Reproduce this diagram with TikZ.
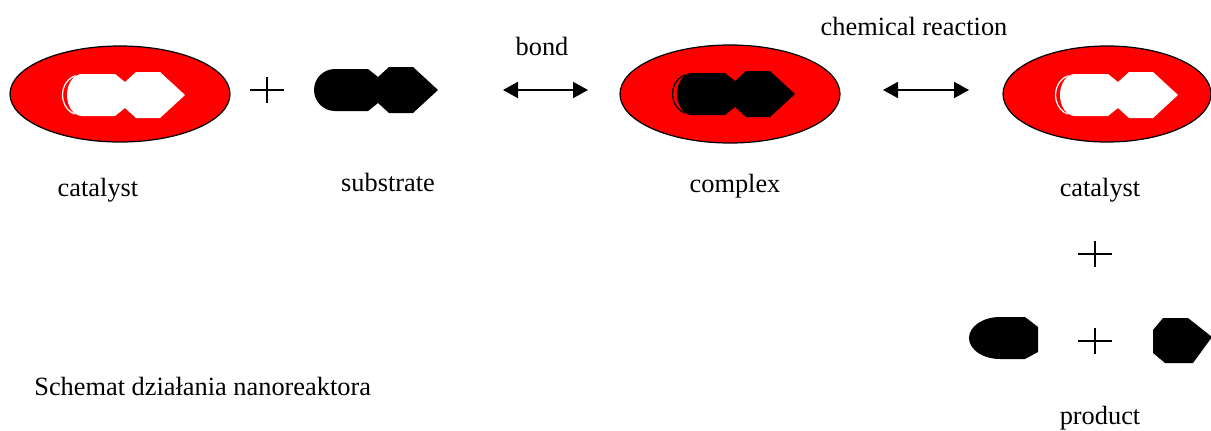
\documentclass[tikz,border=0pt]{standalone}
\usepackage{fontspec}
\setmainfont{Liberation Serif}
\usepackage{tikz}
\usetikzlibrary{shapes.geometric,arrows.meta}

\begin{document}
\begin{tikzpicture}[every node/.style={font=\fontsize{15}{18}\selectfont},
  cell/.style={ellipse, draw=black, line width=0.7pt, fill=red, inner sep=0pt},
  react/.style={{Triangle[length=0.3cm,width=0.32cm]}-{Triangle[length=0.3cm,width=0.32cm]}, line width=1.1pt}]
\useasboundingbox (0,-8.6) rectangle (24.22,0);
\node[cell, minimum width=4.4cm, minimum height=1.92cm] (cat1) at (2.4,-1.88) {};
\node[cell, minimum width=4.4cm, minimum height=1.96cm] (cplx) at (14.6,-1.88) {};
\node[cell, minimum width=4.16cm, minimum height=1.92cm] (cat2) at (22.14,-1.88) {};
% active sites and the substrate molecule
\foreach \x/\y/\c/\r in {2.5/-1.9/white/0.3, 7.56/-1.8/black/0.42, 14.7/-1.88/black/0.3, 22.36/-1.9/white/0.3}
  \fill[\c, shift={(\x,\y)}] (0,0.26) -- (-0.2,0.42) -- (-0.86,0.42)
    arc[start angle=90, end angle=270, x radius=\r, y radius=0.42]
    -- (-0.2,-0.42) -- (0,-0.26) -- (0.22,-0.46) -- (0.7,-0.46) -- (1.2,0)
    -- (0.7,0.46) -- (0.22,0.46) -- cycle;
\foreach \x/\y/\c in {2.5/-1.9/white, 14.7/-1.88/black, 22.36/-1.9/white}
  \draw[\c, line width=0.7pt, shift={(\x,\y)}] (-0.99,0.386)
    arc[start angle=105, end angle=252, x radius=0.35, y radius=0.4];
% product fragments
\fill[black] (20.5,-6.34) -- (20.0,-6.34) arc[start angle=90, end angle=270, x radius=0.62, y radius=0.42]
  -- (20.5,-7.18) -- (20.76,-7.04) -- (20.76,-6.54) -- cycle;
\fill[black] (23.26,-6.36) -- (23.76,-6.36) -- (24.24,-6.74) -- (23.86,-7.26) -- (23.3,-7.26)
  -- (23.06,-7.06) -- (23.06,-6.6) -- cycle;
\foreach \x/\y in {5.34/-1.8, 21.9/-5.08, 21.9/-6.82}
  \draw[line width=0.8pt] (\x-0.34,\y) -- (\x+0.34,\y) (\x,\y+0.26) -- (\x,\y-0.26);
\coordinate (b1) at (10.06,-1.8);
\coordinate (b2) at (11.76,-1.8);
\coordinate (r1) at (17.66,-1.8);
\coordinate (r2) at (19.38,-1.8);
\draw[react] (b1) -- (b2);
\draw[react] (r1) -- (r2);
\node[anchor=base] (bond) at (10.84,-1.1) {bond};
\node[anchor=base] (chem) at (18.28,-0.7) {chemical reaction};
\node[anchor=base] (lcat1) at (1.96,-3.92) {catalyst};
\node[anchor=base] (lsub) at (7.76,-3.82) {substrate};
\node[anchor=base] (lcplx) at (14.7,-3.84) {complex};
\node[anchor=base] (lcat2) at (22.0,-3.92) {catalyst};
\node[anchor=base] (lprod) at (22.0,-8.48) {product};
\node[anchor=base west, inner sep=0pt] (title) at (0.68,-7.9) {Schemat działania nanoreaktora};
\end{tikzpicture}
\end{document}
